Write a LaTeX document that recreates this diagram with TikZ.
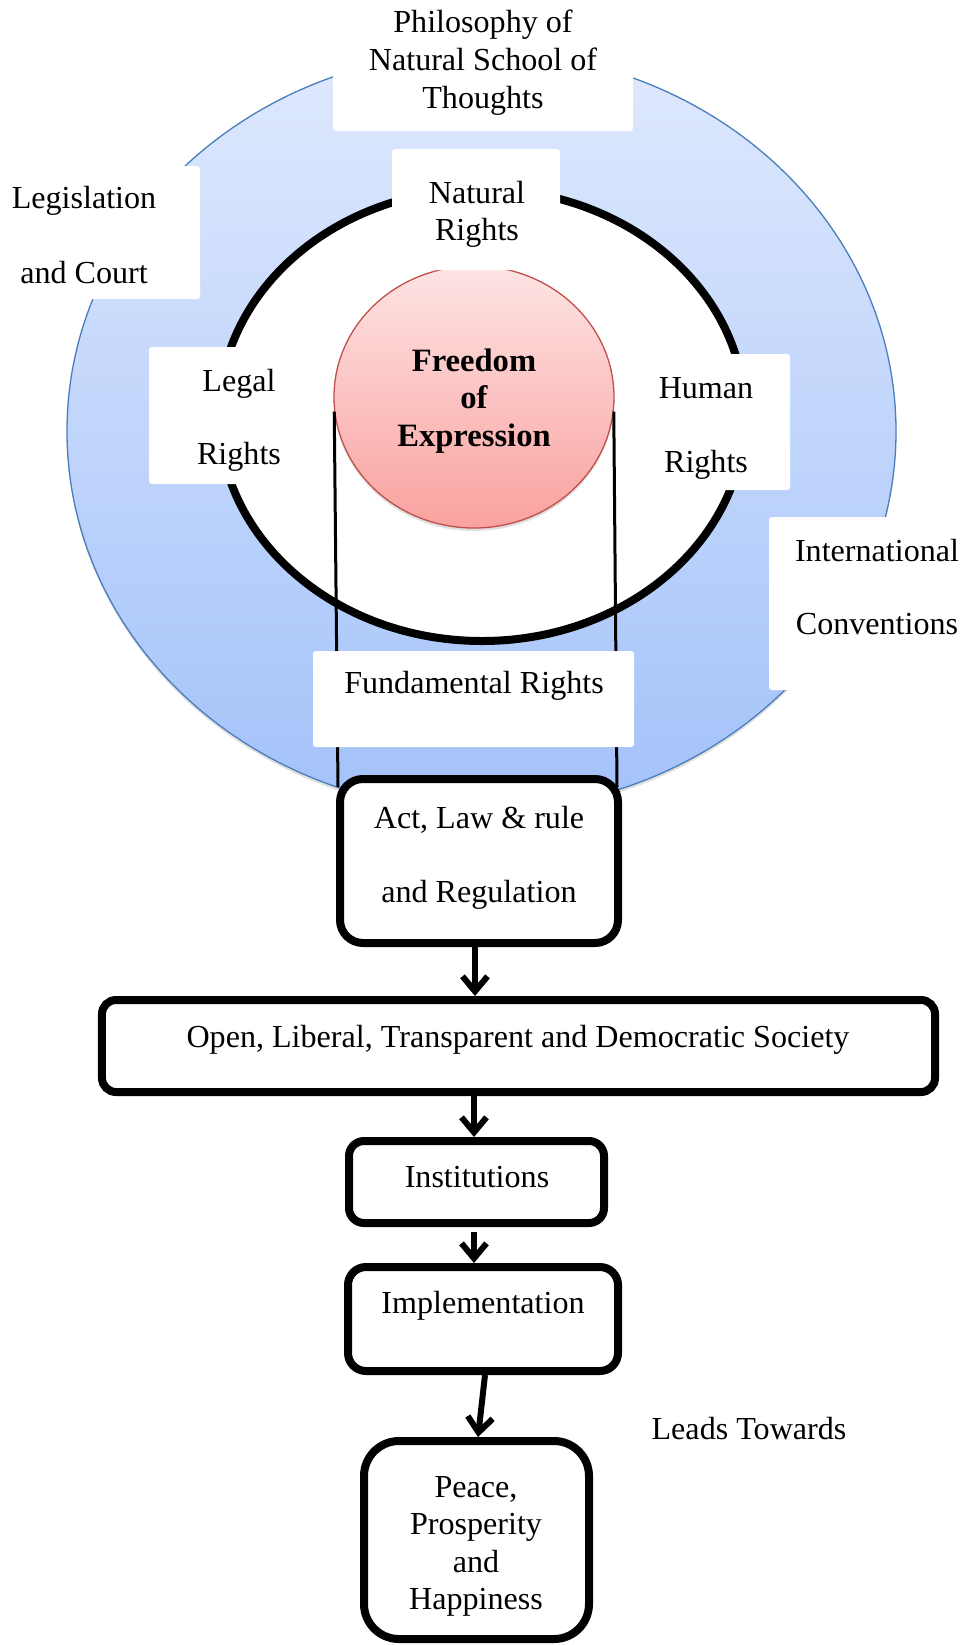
\documentclass[tikz,border=0pt]{standalone}
\usepackage{fontspec}
\setmainfont{Liberation Serif}
\usetikzlibrary{shapes.geometric,arrows.meta,calc,shadows}
\definecolor{bluetop}{RGB}{223,233,253}
\definecolor{bluebot}{RGB}{163,194,250}
\definecolor{blueline}{RGB}{74,126,187}
\definecolor{redtop}{RGB}{253,228,228}
\definecolor{redbot}{RGB}{249,162,159}
\definecolor{redline}{RGB}{192,80,77}
\begin{document}
\begin{tikzpicture}[x=1bp,y=-1bp,
  wbox/.style={rectangle, fill=white, draw=none, inner sep=0pt, rounded corners=3bp},
  flowbox/.style={rectangle, draw=black, line width=8bp, fill=white, inner sep=0pt},
  txt/.style={inner sep=0pt, anchor=base, font=\fontsize{32.1bp}{37.5bp}\selectfont},
  btxt/.style={inner sep=0pt, anchor=base, font=\fontsize{32.6bp}{37.5bp}\selectfont\bfseries},
  arr/.style={line width=6bp, -{Straight Barb[length=15bp,width=25bp]}},
  vline/.style={line width=3bp},
  softshadow/.style={drop shadow={shadow xshift=0bp, shadow yshift=-3bp, opacity=.25}}
]
\useasboundingbox (0,0) rectangle (963,1645);
\fill[white] (0,0) rectangle (963,1645);

% circles
\node[ellipse, minimum width=829bp, minimum height=759bp, inner sep=0pt,
      top color=bluetop, bottom color=bluebot, draw=blueline, line width=1.3bp, softshadow] (outer) at (481.5,431.3) {};
\node[ellipse, minimum width=526bp, minimum height=452bp, inner sep=0pt,
      draw=black, line width=8bp, fill=white] (inner) at (482,415) {};
\node[ellipse, minimum width=280bp, minimum height=262bp, inner sep=0pt,
      top color=redtop, bottom color=redbot, draw=redline, line width=1.3bp, softshadow] (fe) at (474,397) {};

% act box and the two lines into it
\node[flowbox, minimum width=278bp, minimum height=164bp, rounded corners=23bp] (act) at (479,861) {};
\draw[vline] (fe.186.6) -- ($(act.north west)+(2,12)$);
\draw[vline] (fe.-6.6) -- ($(act.north east)+(-5,12)$);

% white label boxes
\node[wbox, minimum width=300bp, minimum height=151bp] (philbox) at (483,55.5) {};
\node[wbox, minimum width=240bp, minimum height=133bp] (legisbox) at (80,232.5) {};
\node[wbox, minimum width=168bp, minimum height=121bp] (natbox) at (476,209.5) {};
\node[wbox, minimum width=180bp, minimum height=137bp] (legalbox) at (239,415.5) {};
\node[wbox, minimum width=168bp, minimum height=136bp] (humanbox) at (706,422) {};
\node[wbox, minimum width=221bp, minimum height=173bp] (intlbox) at (879.5,603.5) {};
\node[wbox, minimum width=321bp, minimum height=96bp] (fundbox) at (473.5,699) {};

% texts of the circle part
\node[txt] (phil) at (483,33) {\begin{tabular}[t]{@{}c@{}}Philosophy of\\Natural School of\\Thoughts\end{tabular}};
\node[txt] (legis) at (84,208) {\begin{tabular}[t]{@{}c@{}}Legislation\\[37.5bp]and Court\end{tabular}};
\node[txt] (nat) at (477,203) {\begin{tabular}[t]{@{}c@{}}Natural\\Rights\end{tabular}};
\node[txt] (legal) at (239,391) {\begin{tabular}[t]{@{}c@{}}Legal\\[36bp]Rights\end{tabular}};
\node[txt] (human) at (706,398.5) {\begin{tabular}[t]{@{}c@{}}Human\\[36bp]Rights\end{tabular}};
\node[txt] (intl) at (877,561) {\begin{tabular}[t]{@{}c@{}}International\\[35.5bp]Conventions\end{tabular}};
\node[txt] (fund) at (474,693) {Fundamental Rights};
\node[btxt] (fetext) at (474,371) {\begin{tabular}[t]{@{}c@{}}Freedom\\of\\Expression\end{tabular}};

% flow part
\node[txt] (acttext) at (479,828) {\begin{tabular}[t]{@{}c@{}}Act, Law \& rule\\[36.5bp]and Regulation\end{tabular}};
\node[flowbox, minimum width=833bp, minimum height=92bp, rounded corners=14bp] (open) at (518.5,1046) {};
\node[txt] (opentext) at (518,1047) {Open, Liberal, Transparent and Democratic Society};
\node[flowbox, minimum width=255bp, minimum height=82bp, rounded corners=15bp] (inst) at (476.5,1182) {};
\node[txt] (insttext) at (477,1187) {Institutions};
\node[flowbox, minimum width=270bp, minimum height=104bp, rounded corners=18bp] (impl) at (483,1319) {};
\node[txt] (impltext) at (483,1313) {Implementation};
\node[flowbox, minimum width=225bp, minimum height=198bp, rounded corners=35bp] (peace) at (476.5,1540) {};
\node[txt] (peacetext) at (476,1497) {\begin{tabular}[t]{@{}c@{}}Peace,\\Prosperity\\and\\Happiness\end{tabular}};
\node[txt] (leads) at (749,1439) {Leads Towards};

% arrows
\coordinate (c1) at ([xshift=-4bp]act.south);
\coordinate (c2) at ([xshift=-2.5bp]inst.north);
\draw[arr] (c1) -- (c1 |- open.north);
\draw[arr] (c2 |- open.south) -- (c2);
\draw[arr, shorten <=5bp] (c2 |- inst.south) -- (c2 |- impl.north);
\draw[arr] ([xshift=2bp]impl.south) -- ([xshift=1.5bp]peace.north);
\end{tikzpicture}
\end{document}
